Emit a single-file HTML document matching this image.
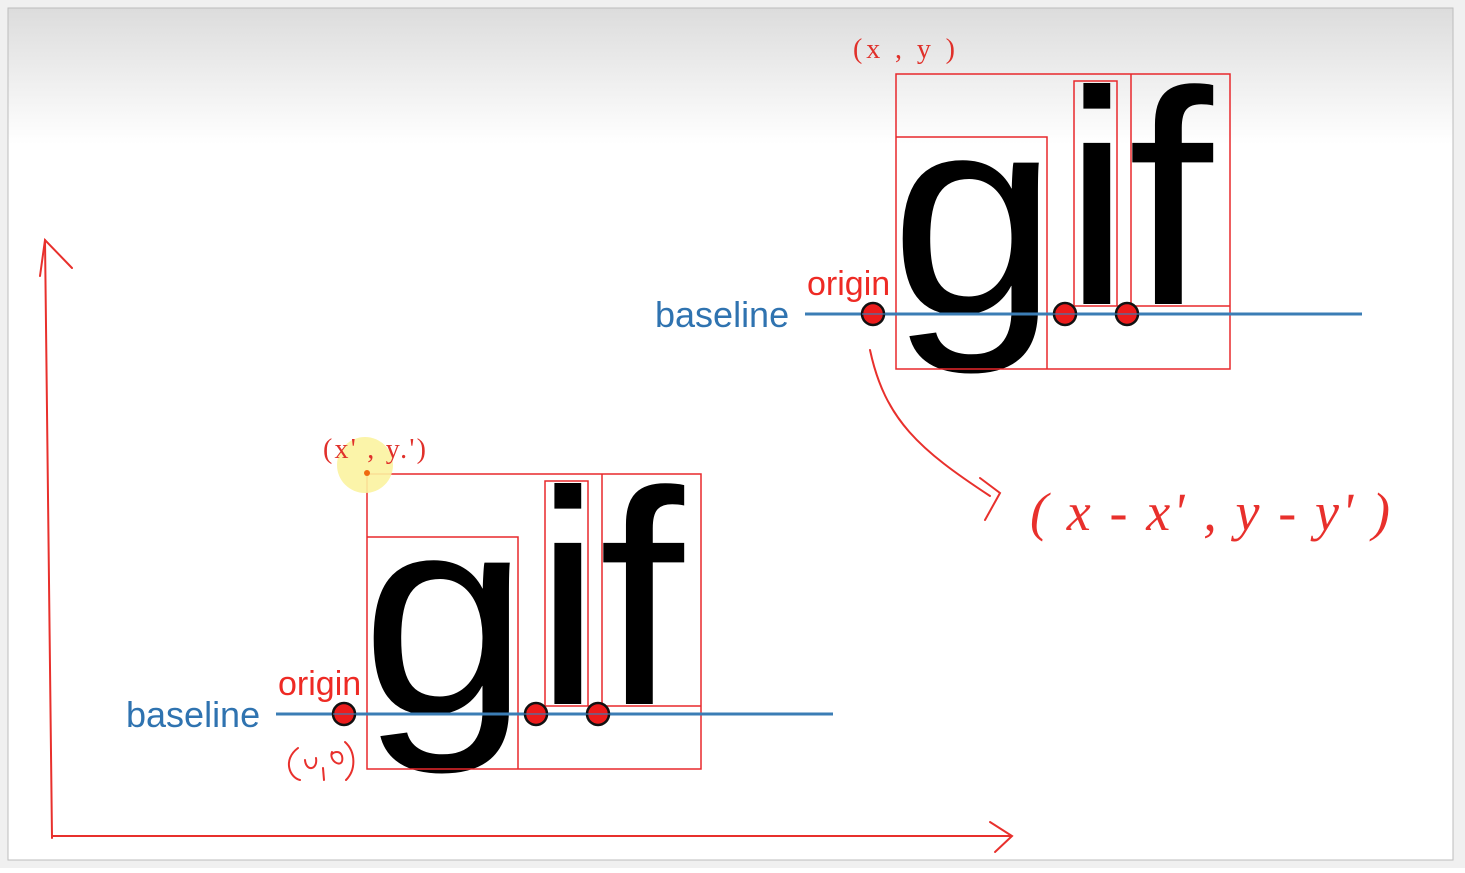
<!DOCTYPE html>
<html><head><meta charset="utf-8"><style>
html,body{margin:0;padding:0;background:#fff;}
body{width:1465px;height:868px;overflow:hidden;position:relative;}
</style></head><body>
<svg width="1465" height="868" viewBox="0 0 1465 868" xmlns="http://www.w3.org/2000/svg">
<defs>
<linearGradient id="bg" x1="0" y1="0" x2="0" y2="1">
<stop offset="0" stop-color="#dcdcdc"/><stop offset="0.16" stop-color="#ffffff"/><stop offset="1" stop-color="#ffffff"/>
</linearGradient>
<g id="gif">
<text x="0" y="0" transform="translate(890,314) scale(0.94,0.89)" font-family="Liberation Sans, Arial, sans-serif" font-size="322" fill="#000">g</text>
<text x="1063" y="304" font-family="Liberation Sans, Arial, sans-serif" font-size="305" fill="#000">i</text>
<text x="1128" y="304" font-family="Liberation Sans, Arial, sans-serif" font-size="305" fill="#000">f</text>
<g fill="none" stroke="#e8282c" stroke-width="1.5">
<rect x="896" y="74" width="334" height="295"/>
<polyline points="896,137 1047,137 1047,369"/>
<rect x="1074" y="81" width="43" height="225"/>
<polyline points="1131,74 1131,306 1230,306"/>
<line x1="1117" y1="306" x2="1131" y2="306"/>
</g>
<line x1="805" y1="314" x2="1362" y2="314" stroke="#3b7db5" stroke-width="3"/>
<g fill="#ec1c1c" stroke="#111" stroke-width="2.5">
<circle cx="873" cy="314" r="11"/><circle cx="1065" cy="314" r="11"/><circle cx="1127" cy="314" r="11"/>
</g>
<line x1="862" y1="314" x2="1140" y2="314" stroke="#3b7db5" stroke-width="2" opacity="0.6"/>
<text x="655" y="327" font-family="Liberation Sans, Arial, sans-serif" font-size="36" fill="#2f73b0">baseline</text>
<text x="807" y="295" font-family="Liberation Sans, Arial, sans-serif" font-size="34" fill="#ee2a24">origin</text>
</g>
</defs>
<rect x="0" y="0" width="1465" height="868" fill="#f0f0f0"/>
<rect x="8" y="8" width="1445" height="852" fill="url(#bg)" stroke="#bdbdbd" stroke-width="1"/>
<use href="#gif"/>
<use href="#gif" transform="translate(-529,400)"/>
<text x="853" y="58" font-family="Liberation Serif, serif" font-size="28" fill="#e0302a" textLength="102" lengthAdjust="spacing">(x  , y  )</text>
<circle cx="365" cy="465" r="28" fill="#fbf3a0" opacity="0.9"/>
<text x="323" y="458" font-family="Liberation Serif, serif" font-size="28" fill="#e0302a" textLength="103" lengthAdjust="spacing">(x' , y.')</text>
<circle cx="367" cy="473" r="3" fill="#f06a10"/>
<g stroke="#e8302c" stroke-width="2" fill="none" stroke-linecap="round">
<path d="M52,838 L45,240"/>
<path d="M40,276 L45,240 L72,268"/>
<path d="M52,836 L1010,836"/>
<path d="M990,822 L1012,836 L995,852"/>
<path d="M870,350 C885,420 920,450 990,496"/>
<path d="M980,478 L1000,493 L985,520"/>
<path d="M298,748 C282,760 290,778 300,780"/>
<path d="M305,760 C306,772 318,770 316,758"/>
<path d="M323,768 L324,780"/>
<path d="M332,752 C328,762 345,770 342,756 C340,750 334,752 332,754"/>
<path d="M345,742 C356,752 356,770 346,780"/>
</g>
<text x="1030" y="530" font-family="Liberation Serif, serif" font-style="italic" font-size="54" fill="#e8302c" textLength="360">( x - x' , y - y' )</text>
</svg>
</body></html>
